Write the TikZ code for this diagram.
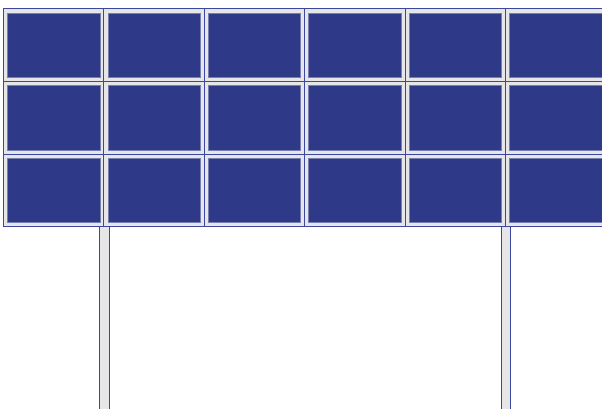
\documentclass[tikz,border=0pt]{standalone}
\definecolor{panelblue}{RGB}{46,58,135}
\definecolor{edgeblue}{RGB}{60,72,160}
\definecolor{framegray}{RGB}{230,230,232}
\tikzset{
  cellframe/.style={draw=edgeblue, line width=0.8pt, fill=framegray, rectangle, inner sep=0pt, minimum width=100.4pt, minimum height=72.5pt, anchor=north west},
  cellinner/.style={fill=panelblue, draw=panelblue!60!framegray, line width=0.6pt, rectangle, inner sep=0pt, minimum width=92.4pt, minimum height=64.5pt},
  legbox/.style={draw=edgeblue, line width=0.8pt, fill=framegray, rectangle, inner sep=0pt, minimum width=9.5pt, minimum height=190pt, anchor=north west}
}
\begin{document}
\begin{tikzpicture}[x=1pt,y=-1pt]
\useasboundingbox (0,0) rectangle (602,409);
\clip (0,0) rectangle (602,409);
\foreach \i in {0,...,5}{
  \foreach \j in {0,1,2}{
    \node[cellframe] (c\i\j) at ({3+100.4*\i},{8.5+72.5*\j}) {};
    \node[cellinner] (p\i\j) at (c\i\j.center) {};
  }
}
\node[legbox] (legL) at (99,226) {};
\node[legbox] (legR) at (500.5,226) {};
\end{tikzpicture}
\end{document}
